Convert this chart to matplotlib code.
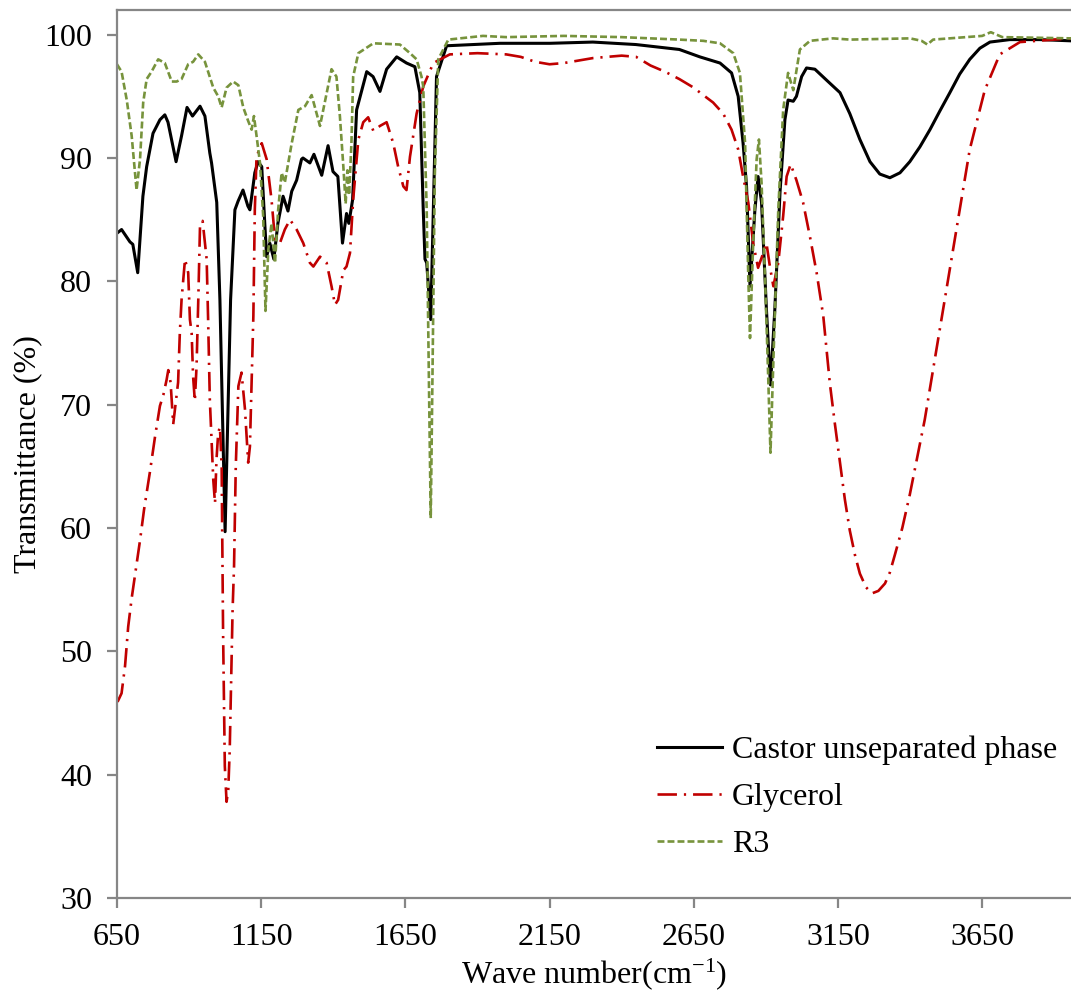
import matplotlib
matplotlib.use("Agg")
import matplotlib.pyplot as plt

plt.rcParams['font.family'] = ['Liberation Serif', 'DejaVu Serif']
plt.rcParams['mathtext.fontset'] = 'custom'
plt.rcParams['mathtext.rm'] = 'Liberation Serif'
plt.rcParams['mathtext.it'] = 'Liberation Serif:italic'
plt.rcParams['lines.scale_dashes'] = False

# Castor unseparated phase
castor_wn = [650, 666, 695, 705, 722, 740, 753, 775, 799, 816, 827, 855, 874, 893, 912, 938, 955,
             972, 978, 996, 1007, 1025, 1044, 1059, 1070, 1087, 1104, 1111, 1128, 1139, 1152, 1163,
             1169, 1180, 1194, 1208, 1226, 1243, 1256, 1273, 1290, 1295, 1319, 1333, 1360, 1382,
             1399, 1416, 1432, 1446, 1454, 1467, 1481, 1516, 1538, 1562, 1585, 1620, 1654, 1683,
             1700, 1712, 1718, 1724, 1738, 1747, 1758, 1793, 1978, 2151, 2300, 2449, 2600, 2671,
             2741, 2781, 2804, 2821, 2833, 2845, 2862, 2873, 2885, 2902, 2916, 2931, 2949, 2966,
             2977, 2995, 3006, 3024, 3041, 3070, 3111, 3157, 3191, 3226, 3261, 3295, 3330, 3365,
             3399, 3434, 3469, 3503, 3538, 3572, 3607, 3642, 3677, 3746, 3850, 3958]
castor_t = [83.9, 84.2, 83.2, 83.0, 80.7, 86.9, 89.3, 92.0, 93.1, 93.5, 92.9, 89.7, 91.8, 94.1,
            93.4, 94.2, 93.4, 90.4, 89.6, 86.4, 78.5, 59.7, 78.5, 85.8, 86.5, 87.4, 86.1, 85.8,
            88.8, 89.7, 89.3, 84.5, 82.0, 83.1, 81.8, 84.7, 86.9, 85.7, 87.3, 88.2, 89.9, 90.0,
            89.6, 90.3, 88.6, 91.0, 88.9, 88.5, 83.1, 85.5, 84.7, 86.6, 93.9, 97.0, 96.6, 95.4,
            97.2, 98.2, 97.7, 97.4, 95.3, 85.8, 81.8, 81.5, 76.9, 85.8, 96.6, 99.1, 99.3, 99.3,
            99.4, 99.2, 98.8, 98.2, 97.7, 96.9, 95.0, 91.2, 87.7, 79.6, 85.8, 88.5, 86.4, 77.7,
            71.6, 77.7, 87.2, 93.1, 94.7, 94.6, 95.0, 96.6, 97.3, 97.2, 96.3, 95.3, 93.6, 91.5,
            89.7, 88.7, 88.4, 88.8, 89.7, 90.9, 92.3, 93.8, 95.3, 96.8, 98.0, 98.9, 99.4, 99.6,
            99.6, 99.5]

# Glycerol
glyc_wn = [652, 666, 678, 689, 701, 730, 744, 764, 782, 799, 811, 822, 828, 836, 845, 851, 862,
           868, 874, 886, 897, 903, 909, 914, 920, 926, 932, 938, 947, 961, 966, 972, 978, 984,
           990, 995, 1001, 1007, 1013, 1018, 1024, 1030, 1036, 1041, 1047, 1051, 1056, 1062,
           1071, 1082, 1094, 1105, 1111, 1117, 1123, 1128, 1134, 1152, 1169, 1186, 1198, 1215,
           1232, 1250, 1273, 1296, 1319, 1331, 1354, 1377, 1394, 1406, 1417, 1435, 1446, 1458,
           1469, 1487, 1504, 1521, 1539, 1562, 1585, 1608, 1625, 1643, 1654, 1666, 1689, 1712,
           1747, 1804, 1900, 2000, 2050, 2100, 2150, 2200, 2300, 2400, 2450, 2500, 2550, 2600,
           2650, 2683, 2717, 2752, 2781, 2804, 2821, 2839, 2856, 2873, 2891, 2902, 2914, 2926,
           2943, 2960, 2972, 2986, 3006, 3029, 3053, 3076, 3099, 3122, 3139, 3157, 3174, 3191,
           3209, 3226, 3247, 3268, 3290, 3313, 3330, 3347, 3373, 3399, 3451, 3503, 3555, 3607,
           3659, 3711, 3781, 3958]
glyc_t = [45.9, 46.6, 48.8, 52.0, 54.3, 59.0, 61.5, 64.5, 67.4, 69.9, 70.8, 72.0, 72.8, 71.8,
          68.4, 69.6, 71.8, 75.8, 78.5, 81.8, 80.7, 76.9, 75.8, 72.3, 70.3, 73.1, 78.5, 84.5,
          84.9, 81.8, 77.0, 70.4, 67.2, 63.9, 62.0, 65.5, 67.7, 68.2, 65.0, 51.5, 40.7, 37.8,
          38.8, 42.0, 48.8, 53.4, 56.9, 65.0, 71.5, 72.6, 69.6, 65.3, 66.6, 71.8, 77.2, 85.8,
          90.1, 91.2, 89.9, 86.6, 83.4, 83.1, 84.2, 85.0, 84.2, 83.1, 81.5, 81.2, 82.0, 81.5,
          79.6, 78.1, 78.5, 80.9, 81.2, 82.3, 86.6, 91.5, 92.9, 93.3, 92.2, 92.6, 92.9, 91.2,
          89.3, 87.7, 87.4, 90.1, 93.6, 95.8, 97.7, 98.4, 98.5, 98.4, 98.2, 97.8, 97.6, 97.7,
          98.1, 98.3, 98.2, 97.5, 97.0, 96.4, 95.7, 95.1, 94.5, 93.6, 92.3, 90.7, 88.5, 86.4,
          83.1, 81.1, 82.3, 83.1, 81.2, 79.6, 81.5, 85.3, 88.5, 89.5, 88.2, 86.4, 83.6, 80.7,
          77.2, 71.7, 68.5, 65.3, 62.3, 59.8, 57.8, 56.3, 55.2, 54.7, 54.9, 55.5, 56.4, 57.8,
          60.0, 62.7, 68.8, 76.1, 83.4, 90.7, 95.5, 98.4, 99.4, 99.7]

# R3
r3_wn = [650, 666, 684, 701, 718, 730, 741, 753, 770, 793, 816, 840, 857, 874, 897, 914, 932,
         955, 984, 1001, 1013, 1030, 1053, 1071, 1088, 1105, 1117, 1125, 1134, 1146, 1157, 1165,
         1175, 1186, 1198, 1209, 1221, 1232, 1256, 1279, 1302, 1325, 1354, 1394, 1411, 1423,
         1435, 1443, 1449, 1455, 1463, 1469, 1487, 1539, 1631, 1666, 1689, 1706, 1712, 1724,
         1733, 1738, 1744, 1752, 1764, 1799, 1919, 2000, 2200, 2400, 2600, 2683, 2741, 2787,
         2810, 2828, 2839, 2845, 2856, 2868, 2876, 2885, 2897, 2908, 2916, 2928, 2943, 2960,
         2977, 2995, 3018, 3053, 3133, 3191, 3400, 3440, 3460, 3480, 3650, 3680, 3720, 3958]
r3_t = [97.6, 97.0, 94.7, 91.8, 87.4, 89.9, 94.5, 96.4, 97.0, 98.0, 97.7, 96.2, 96.2, 96.4,
        97.6, 97.8, 98.4, 97.8, 95.7, 95.0, 94.1, 95.7, 96.2, 95.9, 94.1, 93.0, 92.3, 93.4,
        91.8, 89.6, 85.3, 77.6, 82.6, 84.7, 81.5, 85.8, 88.8, 88.0, 91.2, 93.9, 94.2, 95.1,
        92.6, 97.2, 96.6, 93.4, 89.3, 86.3, 89.0, 87.0, 91.2, 96.6, 98.5, 99.3, 99.2, 98.5,
        98.0, 96.6, 95.8, 85.8, 69.6, 60.8, 72.3, 88.5, 98.0, 99.6, 99.9, 99.8, 99.9, 99.8,
        99.6, 99.5, 99.3, 98.5, 96.9, 91.2, 80.4, 75.4, 83.1, 89.9, 91.5, 88.0, 80.4, 72.3,
        66.1, 75.0, 85.8, 93.9, 96.9, 95.5, 98.8, 99.5, 99.7, 99.6, 99.7, 99.5, 99.2, 99.6,
        99.9, 100.2, 99.8, 99.7]

fig = plt.figure(figsize=(10.71, 10.0), dpi=100)
ax = fig.add_axes([0.1092, 0.102, 0.8908, 0.888])

ax.plot(castor_wn, castor_t, color='black', lw=2.2, label='Castor unseparated phase')
ax.plot(glyc_wn, glyc_t, color='#C00000', lw=1.9, dashes=(14, 5, 1.6, 5), label='Glycerol')
ax.plot(r3_wn, r3_t, color='#77933C', lw=1.9, dashes=(5, 2.2), label='R3')

ax.set_xlim(650, 3958)
ax.set_ylim(30, 102)
ax.set_xticks(range(650, 3700, 500))
ax.set_yticks(range(30, 101, 10))

gray = '#868686'
for s in ['left', 'bottom', 'top']:
    ax.spines[s].set_color(gray)
    ax.spines[s].set_linewidth(1.6)
ax.spines['right'].set_visible(False)
ax.tick_params(axis='both', direction='out', length=7, width=1.6, color=gray,
               labelsize=23, pad=11)

ax.set_xlabel('Wave number(cm$^{-1}$)', fontsize=23, labelpad=3)
ax.set_ylabel('Transmittance (%)', fontsize=23)
ax.yaxis.set_label_coords(-0.078, 0.5)

ax.legend(loc='upper left', bbox_to_anchor=(0.566, 0.183), frameon=False, fontsize=23,
          handlelength=2.05, handletextpad=0.3, labelspacing=0.56, borderpad=0,
          borderaxespad=0)

fig.savefig('out.png', dpi=100)
